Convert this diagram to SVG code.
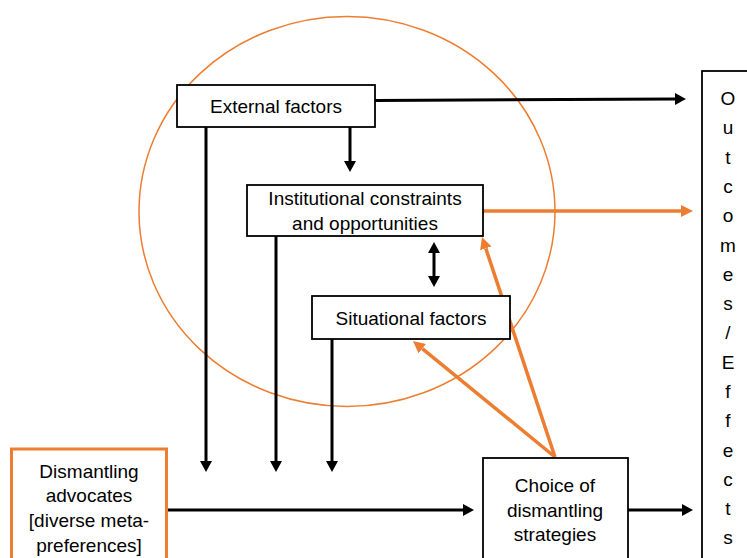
<svg xmlns="http://www.w3.org/2000/svg" width="747" height="558" viewBox="0 0 747 558">
<defs>
<style>
.box{fill:#fff;stroke:#000;stroke-width:1.8}
.obox{fill:#fff;stroke:#ED7D31;stroke-width:3}
.t{font-family:"Liberation Sans",Arial,sans-serif;font-size:19px;fill:#000;text-anchor:middle}
.blk{stroke:#000;stroke-width:3;fill:none}
.org{stroke:#ED7D31;stroke-width:3.5;fill:none}
</style>
<marker id="ab" markerUnits="userSpaceOnUse" markerWidth="11" markerHeight="12" refX="0" refY="6" orient="auto-start-reverse" viewBox="0 0 11 12">
<path d="M0,0 L11,6 L0,12 z" fill="#000"/>
</marker>
<marker id="ao" markerUnits="userSpaceOnUse" markerWidth="12" markerHeight="12" refX="0" refY="6" orient="auto-start-reverse" viewBox="0 0 12 12">
<path d="M0,0 L12,6 L0,12 z" fill="#ED7D31"/>
</marker>
</defs>

<ellipse id="context-circle" cx="347" cy="211.5" rx="208" ry="195" fill="none" stroke="#ED7D31" stroke-width="1.5"/>

<g id="connectors">
<line class="blk" x1="375" y1="100.5" x2="675" y2="99" marker-end="url(#ab)"/>
<line class="blk" x1="350" y1="127" x2="350" y2="161" marker-end="url(#ab)"/>
<line class="blk" x1="206" y1="127" x2="206" y2="461" marker-end="url(#ab)"/>
<line class="blk" x1="276" y1="236" x2="276" y2="461" marker-end="url(#ab)"/>
<line class="blk" x1="332" y1="339" x2="332" y2="461" marker-end="url(#ab)"/>
<line class="blk" x1="434" y1="253" x2="434" y2="276" marker-start="url(#ab)" marker-end="url(#ab)"/>
<line class="org" x1="483" y1="211" x2="681" y2="211" marker-end="url(#ao)"/>
<line class="blk" x1="167" y1="510" x2="463" y2="510" marker-end="url(#ab)"/>
<line class="blk" x1="628" y1="510" x2="682" y2="510" marker-end="url(#ab)"/>
<line class="org" x1="555" y1="457" x2="485.8" y2="248.4" marker-end="url(#ao)"/>
<line class="org" x1="555" y1="457" x2="422.3" y2="348.6" marker-end="url(#ao)"/>
</g>

<g id="external-factors">
<rect class="box" x="177" y="85" width="198" height="42"/>
<text class="t" x="276" y="113">External factors</text>
</g>

<g id="institutional">
<rect class="box" x="247" y="185" width="236" height="51"/>
<text class="t" x="365" y="205">Institutional constraints</text>
<text class="t" x="365" y="230">and opportunities</text>
</g>

<g id="situational">
<rect class="box" x="312" y="296" width="198" height="43"/>
<text class="t" x="411" y="325">Situational factors</text>
</g>

<g id="advocates">
<rect class="obox" x="11.5" y="449" width="155" height="200"/>
<text class="t" x="89" y="478">Dismantling</text>
<text class="t" x="89" y="502">advocates</text>
<text class="t" x="89" y="527">[diverse meta-</text>
<text class="t" x="89" y="552">preferences]</text>
</g>

<g id="choice">
<rect class="box" x="483" y="458" width="145" height="200"/>
<text class="t" x="555" y="492">Choice of</text>
<text class="t" x="555" y="517">dismantling</text>
<text class="t" x="555" y="541">strategies</text>
</g>

<g id="outcomes">
<rect class="box" x="702" y="71" width="100" height="600"/>
<text class="t" x="728" y="105">O<tspan x="728" dy="29.3">u</tspan><tspan x="728" dy="29.3">t</tspan><tspan x="728" dy="29.3">c</tspan><tspan x="728" dy="29.3">o</tspan><tspan x="728" dy="29.3">m</tspan><tspan x="728" dy="29.3">e</tspan><tspan x="728" dy="29.3">s</tspan><tspan x="728" dy="29.3">/</tspan><tspan x="728" dy="29.3">E</tspan><tspan x="728" dy="29.3">f</tspan><tspan x="728" dy="29.3">f</tspan><tspan x="728" dy="29.3">e</tspan><tspan x="728" dy="29.3">c</tspan><tspan x="728" dy="29.3">t</tspan><tspan x="728" dy="29.3">s</tspan></text>
</g>
</svg>
